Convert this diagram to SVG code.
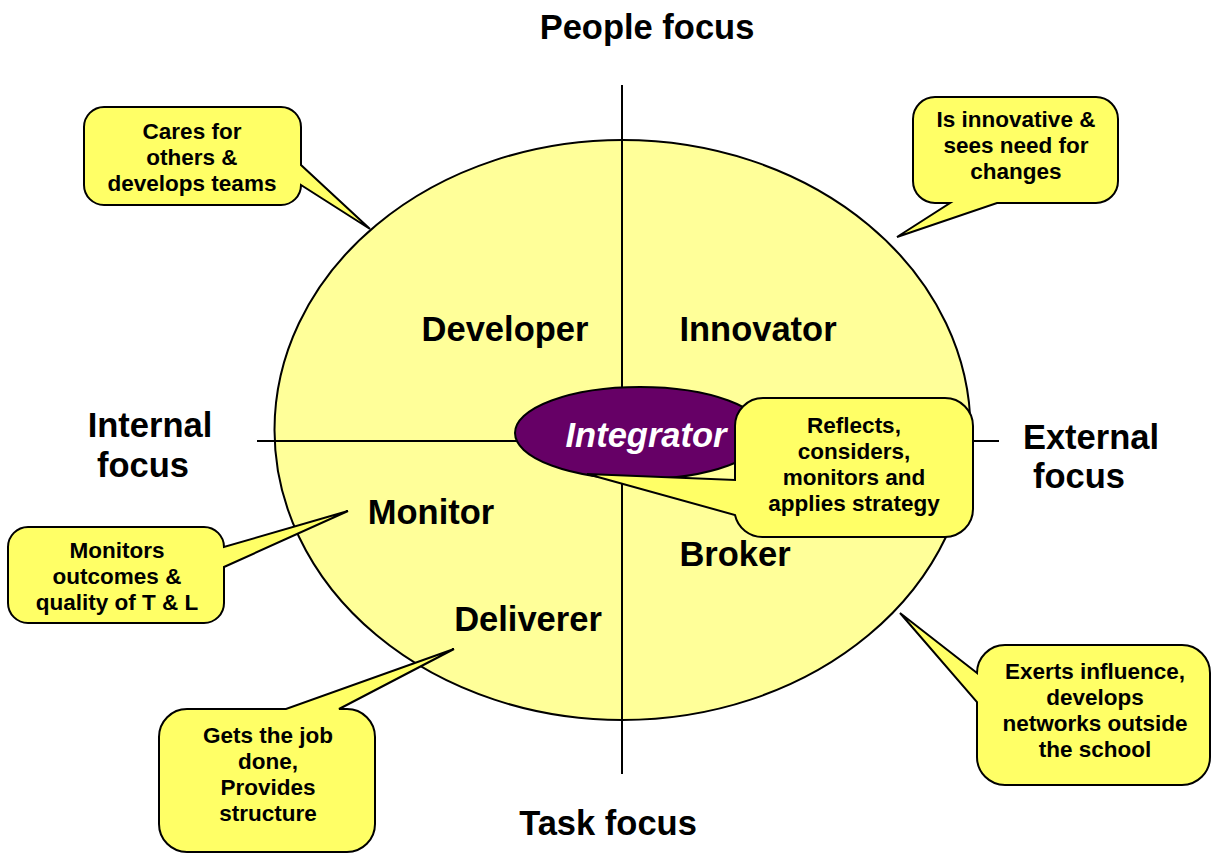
<svg xmlns="http://www.w3.org/2000/svg" width="1212" height="854" viewBox="0 0 1212 854">
<style>
.lbl{font-family:"Liberation Sans",Arial,sans-serif;font-weight:bold;font-size:34.5px;fill:#000;text-anchor:middle}
.ct{font-family:"Liberation Sans",Arial,sans-serif;font-weight:bold;font-size:22.5px;fill:#000;text-anchor:middle}
.co{fill:#FFFF66;stroke:#000;stroke-width:2;stroke-linejoin:miter}
.ax{stroke:#000;stroke-width:2;fill:none}
</style>
<rect width="1212" height="854" fill="#fff"/>
<g id="circle">
<ellipse cx="622.5" cy="430" rx="348" ry="290" fill="#FFFF99" stroke="#000" stroke-width="2"/>
</g>
<g id="axes">
<line class="ax" x1="622" y1="85" x2="622" y2="774"/>
<line class="ax" x1="257" y1="441" x2="999" y2="441"/>
</g>
<g id="axis-labels">
<text class="lbl" x="647" y="39">People focus</text>
<text class="lbl" x="608" y="835">Task focus</text>
<text class="lbl" x="150" y="437">Internal</text>
<text class="lbl" x="143" y="477">focus</text>
<text class="lbl" x="1091" y="449">External</text>
<text class="lbl" x="1079" y="488">focus</text>
</g>
<g id="roles">
<text class="lbl" x="505" y="341">Developer</text>
<text class="lbl" x="758" y="341">Innovator</text>
<text class="lbl" x="431" y="524">Monitor</text>
<text class="lbl" x="735" y="566">Broker</text>
<text class="lbl" x="528" y="631">Deliverer</text>
</g>
<g id="integrator">
<ellipse cx="640" cy="433" rx="125" ry="46" fill="#660066" stroke="#000" stroke-width="2"/>
<text class="lbl" x="646" y="447" style="fill:#fff;font-style:italic">Integrator</text>
</g>
<g id="callout-developer">
<path class="co" d="M104,107 H281 A20,20 0 0 1 301,127 V165 L370,229 L301,185 A20,20 0 0 1 281,205 H104 A20,20 0 0 1 84,185 V127 A20,20 0 0 1 104,107 Z"/>
<text class="ct" x="192" y="139">Cares for</text>
<text class="ct" x="192" y="165">others &amp;</text>
<text class="ct" x="192" y="191">develops teams</text>
</g>
<g id="callout-innovator">
<path class="co" d="M935,97 H1096 A22,22 0 0 1 1118,119 V181 A22,22 0 0 1 1096,203 H997 L897,237 L950,203 H935 A22,22 0 0 1 913,181 V119 A22,22 0 0 1 935,97 Z"/>
<text class="ct" x="1016" y="127">Is innovative &amp;</text>
<text class="ct" x="1016" y="153">sees need for</text>
<text class="ct" x="1016" y="179">changes</text>
</g>
<g id="callout-monitor">
<path class="co" d="M28,527 H204 A20,20 0 0 1 224,547 L348,511 L224,567 V603 A20,20 0 0 1 204,623 H28 A20,20 0 0 1 8,603 V547 A20,20 0 0 1 28,527 Z"/>
<text class="ct" x="117" y="558">Monitors</text>
<text class="ct" x="117" y="584">outcomes &amp;</text>
<text class="ct" x="117" y="610">quality of T &amp; L</text>
</g>
<g id="callout-deliverer">
<path class="co" d="M187,709 H286 L454,649 L339,709 H347 A28,28 0 0 1 375,737 V824 A28,28 0 0 1 347,852 H187 A28,28 0 0 1 159,824 V737 A28,28 0 0 1 187,709 Z"/>
<text class="ct" x="268" y="743">Gets the job</text>
<text class="ct" x="268" y="769">done,</text>
<text class="ct" x="268" y="795">Provides</text>
<text class="ct" x="268" y="821">structure</text>
</g>
<g id="callout-broker">
<path class="co" d="M1005,645 H1182 A28,28 0 0 1 1210,673 V757 A28,28 0 0 1 1182,785 H1005 A28,28 0 0 1 977,757 V702 L900,613 L977,673 A28,28 0 0 1 1005,645 Z"/>
<text class="ct" x="1095" y="679">Exerts influence,</text>
<text class="ct" x="1095" y="705">develops</text>
<text class="ct" x="1095" y="731">networks outside</text>
<text class="ct" x="1095" y="757">the school</text>
</g>
<g id="callout-integrator">
<path class="co" d="M763,398 H945 A28,28 0 0 1 973,426 V509 A28,28 0 0 1 945,537 H763 A28,28 0 0 1 735,515 L587,474 L735,480 V426 A28,28 0 0 1 763,398 Z"/>
<text class="ct" x="854" y="433">Reflects,</text>
<text class="ct" x="854" y="459">considers,</text>
<text class="ct" x="854" y="485">monitors and</text>
<text class="ct" x="854" y="511">applies strategy</text>
</g>
</svg>
